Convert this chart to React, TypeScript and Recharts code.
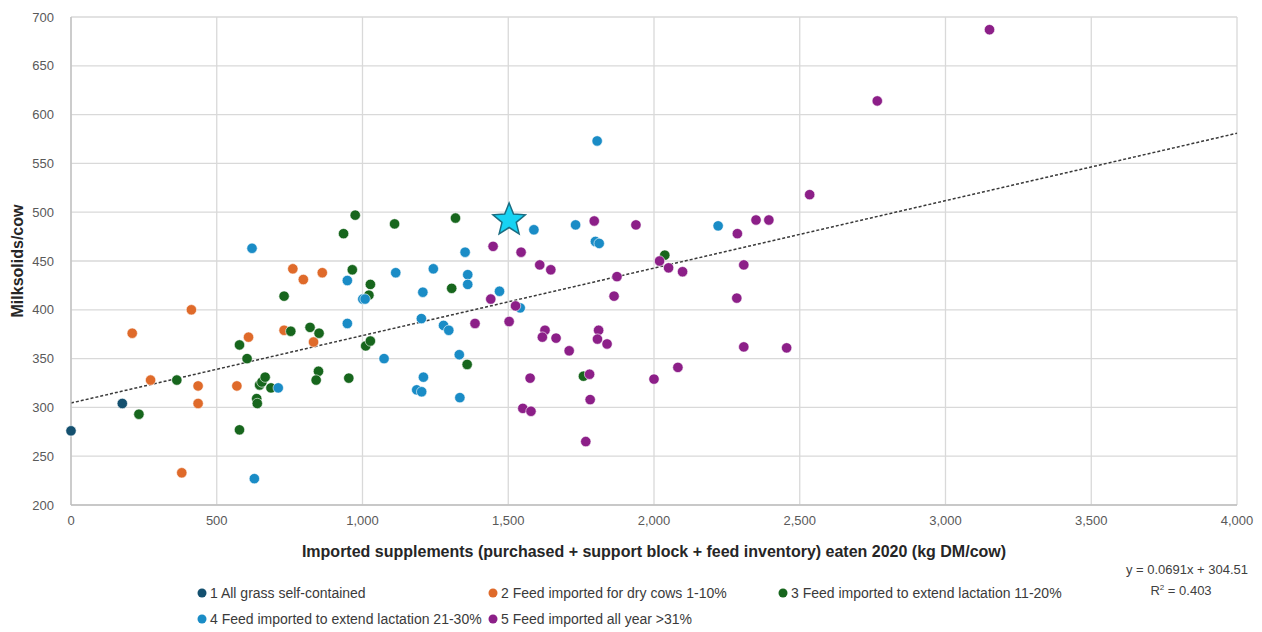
import { ScatterChart, Scatter, XAxis, YAxis, CartesianGrid, ReferenceLine, Legend } from 'recharts';

// values (kg DM/cow, milksolids/cow)
const grassX = [0, 176];
const grassY = [276, 304];

const dryCowsX = [210, 413, 273, 436, 436, 380, 569, 609, 731, 761, 797, 862, 832];
const dryCowsY = [376, 400, 328, 322, 304, 233, 322, 372, 379, 442, 431, 438, 367];

const lact1120X = [233, 363, 578, 578, 604, 637, 639, 647, 655, 666, 686, 731, 754, 820, 851, 849, 841, 953, 965, 935, 975, 1110, 1319, 1027, 1022, 1306, 1011, 1027, 1359, 1758, 2037];
const lact1120Y = [293, 328, 277, 364, 350, 309, 304, 323, 326, 331, 320, 414, 378, 382, 376, 337, 328, 330, 441, 478, 497, 488, 494, 426, 415, 422, 363, 368, 344, 332, 456];

const lact2130X = [621, 629, 711, 948, 948, 1001, 1009, 1114, 1243, 1361, 1361, 1207, 1470, 1541, 1352, 1588, 1731, 1799, 1812, 1805, 2220, 1202, 1278, 1296, 1074, 1332, 1209, 1186, 1203, 1334];
const lact2130Y = [463, 227, 320, 386, 430, 411, 411, 438, 442, 436, 426, 418, 419, 402, 459, 482, 487, 470, 468, 573, 486, 391, 384, 379, 350, 354, 331, 318, 316, 310];

const allYearX = [1448, 1544, 1608, 1646, 1795, 1938, 1440, 1525, 1873, 1863, 1386, 1503, 1626, 1617, 1664, 1709, 1810, 1806, 1839, 1575, 1779, 1781, 1550, 1578, 1766, 2766, 2534, 2350, 2394, 2286, 2019, 2050, 2098, 2308, 2284, 2308, 2455, 2082, 2000, 3151];
const allYearY = [465, 459, 446, 441, 491, 487, 411, 404, 434, 414, 386, 388, 379, 372, 371, 358, 379, 370, 365, 330, 334, 308, 299, 296, 265, 614, 518, 492, 492, 478, 450, 443, 439, 446, 412, 362, 361, 341, 329, 687];

// highlighted farm (star)
const highlightX = [1503];
const highlightY = [492];

const xTicks = [0, 500, 1000, 1500, 2000, 2500, 3000, 3500, 4000];
const yTicks = [200, 250, 300, 350, 400, 450, 500, 550, 600, 650, 700];

// Excel linear trendline as printed on the chart
const trendSlope = 0.0691;
const trendIntercept = 304.51;
const trendR2 = 0.403;

const FONT = "'Liberation Sans', Arial, sans-serif";

const series = [
  { name: '1 All grass self-contained', color: '#14506f', xs: grassX, ys: grassY },
  { name: '2 Feed imported for dry cows 1-10%', color: '#df6a2a', xs: dryCowsX, ys: dryCowsY },
  { name: '3 Feed imported to extend lactation 11-20%', color: '#17661d', xs: lact1120X, ys: lact1120Y },
  { name: '4 Feed imported to extend lactation 21-30%', color: '#1a8cc6', xs: lact2130X, ys: lact2130Y },
  { name: '5 Feed imported all year >31%', color: '#8c1f88', xs: allYearX, ys: allYearY },
];

const toPoints = (xs: number[], ys: number[]) => xs.map((x, i) => ({ x, y: ys[i] }));

const dotShape = (color: string) => (props: any) => (
  <circle cx={props.cx} cy={props.cy} r={5.2} fill={color} stroke="#ffffff" strokeWidth={0.6} />
);

const starShape = (props: any) => {
  const pts: string[] = [];
  for (let i = 0; i < 10; i++) {
    const r = i % 2 === 0 ? 17 : 7.5;
    const a = (-90 + i * 36) * Math.PI / 180;
    pts.push(`${props.cx + r * Math.cos(a)},${props.cy + r * Math.sin(a)}`);
  }
  return <polygon points={pts.join(' ')} fill="#17d3f3" stroke="#1b6d82" strokeWidth={1.5} />;
};

// legend slots: [marker centre x, row centre y] inside the legend box
const legendSlots = [
  [202, 21], [493, 21], [783, 21],
  [202, 47], [493, 47],
];

const renderLegend = () => (
  <div style={{ position: 'relative', height: 60, fontFamily: FONT, fontSize: 14, color: '#3a3a3a' }}>
    {series.map((s, i) => (
      <div key={s.name} style={{ position: 'absolute', left: legendSlots[i][0] - 5, top: legendSlots[i][1] - 9, height: 18, display: 'flex', alignItems: 'center', whiteSpace: 'nowrap' }}>
        <svg width={10} height={10} style={{ marginRight: 3 }}>
          <circle cx={5} cy={5} r={4.5} fill={s.color} />
        </svg>
        <span>{s.name}</span>
      </div>
    ))}
    <div style={{ position: 'absolute', left: 1104, width: 166, top: -11, textAlign: 'center', fontSize: 13, lineHeight: '18px', color: '#404040' }}>
      <div>{`y = ${trendSlope}x + ${trendIntercept}`}</div>
      <div style={{ marginLeft: -12 }}>R<sup style={{ fontSize: 8 }}>2</sup> = {trendR2}</div>
    </div>
  </div>
);

export default function App() {
  const trendEnd = xTicks[xTicks.length - 1];
  return (
    <div style={{ position: 'absolute', left: 0, top: 0, width: 1262, height: 632, background: '#ffffff' }}>
      <ScatterChart width={1262} height={632} margin={{ top: 17, right: 25, bottom: 0, left: 0 }}>
        <CartesianGrid stroke="#d9d9d9" strokeWidth={1.3} />
        <XAxis
          type="number"
          dataKey="x"
          domain={[0, 4000]}
          ticks={xTicks}
          height={67}
          tickSize={0}
          tickMargin={11}
          stroke="#bfbfbf"
          strokeWidth={1.3}
          tick={{ fill: '#595959', fontSize: 13, fontFamily: FONT }}
          tickFormatter={(v: number) => v.toLocaleString('en-US')}
          label={{
            value: 'Imported supplements (purchased + support block + feed inventory) eaten 2020 (kg DM/cow)',
            position: 'insideBottom',
            offset: 15,
            style: { fill: '#262626', fontSize: 16, fontWeight: 'bold', fontFamily: FONT },
          }}
        />
        <YAxis
          type="number"
          dataKey="y"
          domain={[200, 700]}
          ticks={yTicks}
          width={71}
          tickSize={0}
          tickMargin={17}
          stroke="#bfbfbf"
          strokeWidth={1.3}
          tick={{ fill: '#595959', fontSize: 13, fontFamily: FONT }}
          label={{
            value: 'Milksolids/cow',
            angle: -90,
            position: 'insideLeft',
            offset: 17,
            style: { textAnchor: 'middle', fill: '#262626', fontSize: 16, fontWeight: 'bold', fontFamily: FONT },
          }}
        />
        {series.map((s) => (
          <Scatter
            key={s.name}
            name={s.name}
            data={toPoints(s.xs, s.ys)}
            fill={s.color}
            shape={dotShape(s.color)}
            isAnimationActive={false}
          />
        ))}
        <ReferenceLine
          segment={[
            { x: 0, y: trendIntercept },
            { x: trendEnd, y: trendIntercept + trendSlope * trendEnd },
          ]}
          stroke="#3a3a3a"
          strokeWidth={1.5}
          strokeDasharray="3 2"
        />
        <Scatter
          name="highlight"
          data={toPoints(highlightX, highlightY)}
          shape={starShape}
          legendType="none"
          isAnimationActive={false}
        />
        <Legend verticalAlign="bottom" height={60} content={renderLegend} />
      </ScatterChart>
    </div>
  );
}
